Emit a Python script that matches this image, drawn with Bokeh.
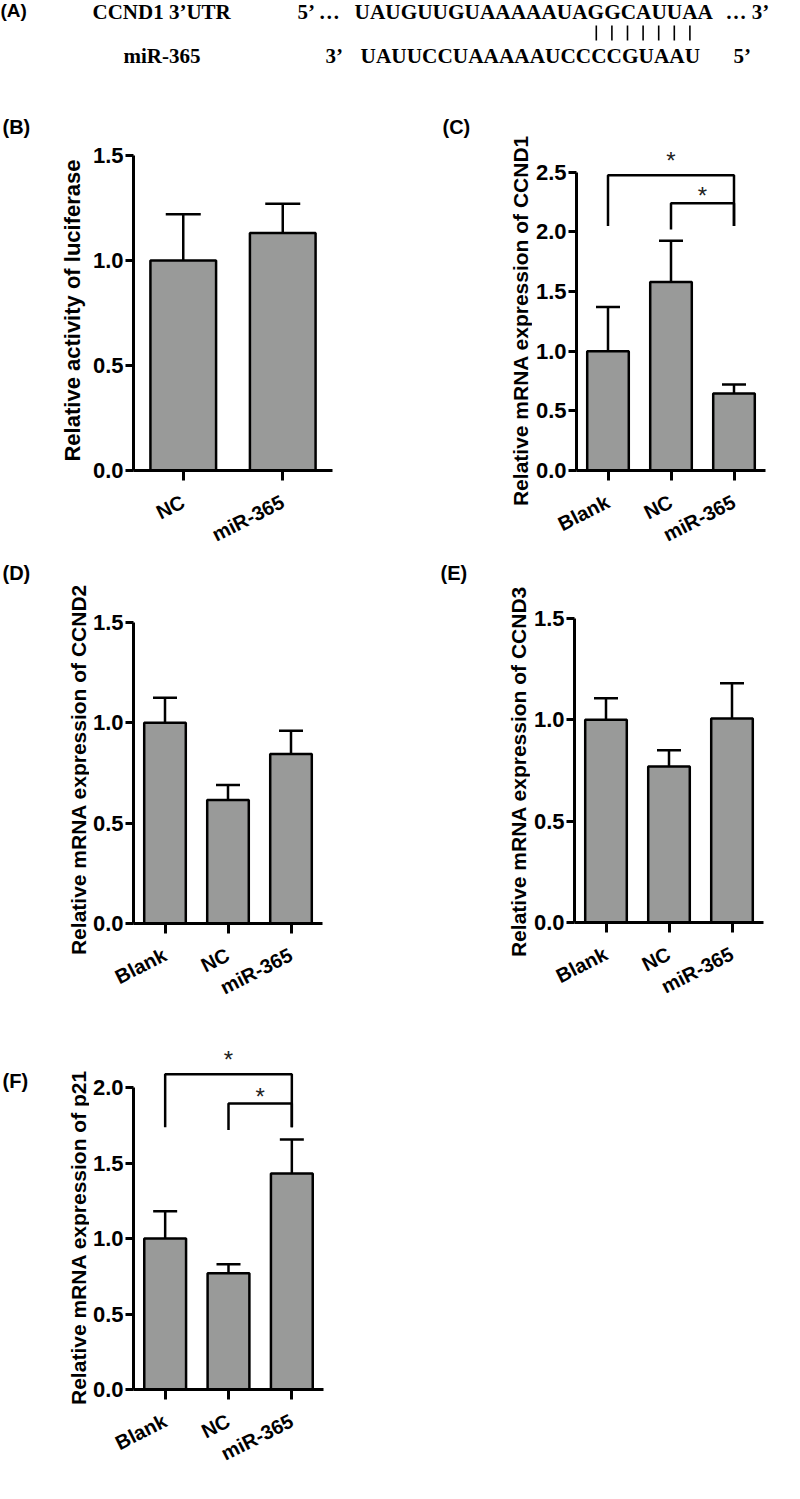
import math
from bokeh.plotting import figure
from bokeh.models import (Whisker, TeeHead, FixedTicker, PrintfTickFormatter,
                          ColumnDataSource, Range1d, FactorRange)
from bokeh.layouts import column, row
from bokeh.embed import file_html
from bokeh.resources import INLINE
from bokeh.core.properties import value

# ---------------- data ----------------
target_name = "CCND1 3’UTR"
target_seq = "UAUGUUGUAAAAAUAGGCAUUAA"
mir_name = "miR-365"
mir_seq = "UAUUCCUAAAAAUCCCCGUAAU"
paired_idx = [15, 16, 17, 18, 19, 20, 21]

b_groups = ["NC", "miR-365"]
b_means = [1.00, 1.13]
b_upper = [1.22, 1.27]

cdef_groups = ["Blank", "NC", "miR-365"]
c_means = [1.00, 1.58, 0.645]
c_upper = [1.37, 1.925, 0.72]
d_means = [1.00, 0.615, 0.845]
d_upper = [1.125, 0.69, 0.96]
e_means = [1.00, 0.77, 1.007]
e_upper = [1.107, 0.85, 1.18]
f_means = [1.00, 0.77, 1.43]
f_upper = [1.18, 0.83, 1.655]

# significance brackets: (left group, right group, bracket top, left leg end, right leg end, star y)
c_sig = [("Blank", "miR-365", 2.475, 2.05, 2.05, 2.64),
         ("NC", "miR-365", 2.24, 2.02, 2.05, 2.35)]
f_sig = [("Blank", "miR-365", 2.088, 1.736, 1.736, 2.216),
         ("NC", "miR-365", 1.894, 1.718, 1.736, 1.973)]

SANS = "Liberation Sans"
SERIF = "Liberation Serif"
BAR_FILL = "#999a99"


def blank_fig(w, h, flip=False):
    f = figure(width=w, height=h, x_range=Range1d(0, w),
               y_range=Range1d(h, 0) if flip else Range1d(0, h),
               output_backend="svg", toolbar_location=None, min_border=0,
               x_axis_type=None, y_axis_type=None)
    f.frame_align = False
    f.grid.visible = False
    f.outline_line_color = None
    f.background_fill_color = "white"
    f.border_fill_color = "white"
    return f


def style_axes(p, yticks):
    p.grid.visible = False
    p.outline_line_color = None
    p.background_fill_color = "white"
    p.border_fill_color = "white"
    for ax in p.axis:
        ax.axis_line_width = 3
        ax.axis_line_color = "black"
        ax.major_tick_line_width = 3
        ax.major_tick_line_color = "black"
        ax.major_tick_in = 0
        ax.minor_tick_line_color = None
        ax.major_label_text_font = SANS
        ax.major_label_text_font_style = "bold"
        ax.major_label_text_color = "black"
    yax = p.yaxis[0]
    yax.ticker = FixedTicker(ticks=yticks)
    yax.bounds = (0, yticks[-1])
    yax.formatter = PrintfTickFormatter(format="%.1f")
    yax.major_tick_out = 8
    yax.major_label_standoff = 2
    yax.major_label_text_font_size = "22px"
    xax = p.xaxis[0]
    xax.major_tick_out = 10
    xax.major_label_orientation = 0.47
    xax.major_label_standoff = 20
    xax.major_label_text_font_size = "20px"


def panel(letter, groups, means, upper, ylabel, yticks, geo, cap, letter_page,
          ylabel_page, ylabel_size, sig=None):
    ox, oy, W, h, sw, fl, fr, fb, ft, axis_top = geo
    ymax_view = yticks[-1] * (fb - ft) / (fb - axis_top)
    # left strip: panel letter and y-axis title
    s = blank_fig(sw, h)
    s.text(x=[letter_page[0] - ox], y=[oy + h - letter_page[1]], text=[letter],
           text_font=value(SANS), text_font_style="bold", text_font_size="20px",
           text_align="left", text_baseline="middle", text_color="black")
    s.text(x=[ylabel_page[0] - ox], y=[oy + h - ylabel_page[1]], text=[ylabel],
           angle=math.pi / 2, text_font=value(SANS), text_font_style="bold",
           text_font_size=ylabel_size, text_align="center", text_baseline="middle",
           text_color="black")
    # main chart
    mx = ox + sw
    p = figure(width=W - sw, height=h,
               x_range=FactorRange(*groups),
               y_range=Range1d(0, ymax_view),
               output_backend="svg", toolbar_location=None,
               min_border_left=fl - mx, min_border_right=ox + W - fr,
               min_border_bottom=oy + h - fb, min_border_top=ft - oy)
    p.frame_align = False
    style_axes(p, yticks)
    src = ColumnDataSource(dict(x=groups, top=means, upper=upper))
    p.vbar(x="x", top="top", width=0.66, source=src, fill_color=BAR_FILL,
           line_color="black", line_width=2.5)
    wk = Whisker(base="x", lower="top", upper="upper", source=src, dimension="height",
                 line_width=2.5, line_color="black",
                 upper_head=TeeHead(size=cap, line_width=2.5, line_color="black"),
                 lower_head=None)
    p.add_layout(wk)
    if sig:
        for g1, g2, top, l_end, r_end, star_y in sig:
            p.line(x=[g1, g1, g2, g2], y=[l_end, top, top, r_end],
                   line_width=2.5, line_color="black")
            mid = (groups.index(g1) + groups.index(g2)) / 2 + 0.5
            p.text(x=[mid], y=[star_y], text=["*"], text_align="center",
                   text_baseline="middle", y_offset=5,
                   text_font=value(SANS), text_font_size="24px", text_color="#222222")
    return [s, p]


# ---------------- panel A (page coordinates, y downwards) ----------------
pa = blank_fig(792, 100, flip=True)
name_kw = dict(text_font=value(SERIF), text_font_style="bold", text_font_size="21px",
               text_baseline="middle", text_color="black")
seq_kw = dict(name_kw, text_font_size="21.3px")
pa.text(x=[0], y=[10], text=["(A)"], text_font=value(SANS), text_font_style="bold",
        text_font_size="19px", text_baseline="middle")
line1_y, line2_y = 11, 55
pa.text(x=[92], y=[line1_y], text=[target_name], **name_kw)
pa.text(x=[297], y=[line1_y], text=["5’ …"], **name_kw)
seq1_left = 354
pa.text(x=[seq1_left], y=[line1_y], text=[target_seq], **seq_kw)
pa.text(x=[725], y=[line1_y], text=["… 3’"], **name_kw)
pa.text(x=[123], y=[line2_y], text=[mir_name], **name_kw)
pa.text(x=[325], y=[line2_y], text=["3’"], **name_kw)
pa.text(x=[360], y=[line2_y], text=[mir_seq], **seq_kw)
pa.text(x=[733], y=[line2_y], text=["5’"], **name_kw)
pitch = 15.6
bx = [seq1_left + (i + 0.5) * pitch for i in paired_idx]
pa.segment(x0=bx, y0=[25] * len(bx), x1=bx, y1=[40] * len(bx), line_width=1.6,
           line_color="black")

# ---------------- panels B-F ----------------
# geometry (page px): origin x, origin y, cell width, height, strip width,
#                     frame left, frame right, frame bottom, frame top, top-tick y
rowB = panel("(B)", b_groups, b_means, b_upper, "Relative activity of luciferase",
             [0, 0.5, 1.0, 1.5], (0, 100, 400, 458, 89, 131, 332, 472, 135, 155), 35,
             (2, 126), (72, 310), "22px")
rowC = panel("(C)", cdef_groups, c_means, c_upper, "Relative mRNA expression of CCND1",
             [0, 0.5, 1.0, 1.5, 2.0, 2.5], (400, 100, 392, 458, 132, 574, 765, 473, 140, 172),
             24, (442, 126), (520, 320), "21px", sig=c_sig)
rowD = panel("(D)", cdef_groups, d_means, d_upper, "Relative mRNA expression of CCND2",
             [0, 0.5, 1.0, 1.5], (0, 558, 400, 472, 89, 131, 322, 923, 600, 622), 24,
             (2, 572), (78, 769), "21px")
rowE = panel("(E)", cdef_groups, e_means, e_upper, "Relative mRNA expression of CCND3",
             [0, 0.5, 1.0, 1.5], (400, 558, 392, 472, 130, 573, 763, 922, 600, 618), 24,
             (440, 572), (518, 771), "21px")
rowF = panel("(F)", cdef_groups, f_means, f_upper, "Relative mRNA expression of p21",
             [0, 0.5, 1.0, 1.5, 2.0], (0, 1030, 400, 460, 89, 131, 323, 1389, 1040, 1087), 24,
             (2, 1080), (78, 1237), "21px", sig=f_sig)

layout = column(pa, row(*rowB, *rowC), row(*rowD, *rowE), row(*rowF))
open("out.html", "w").write(file_html(layout, INLINE))
